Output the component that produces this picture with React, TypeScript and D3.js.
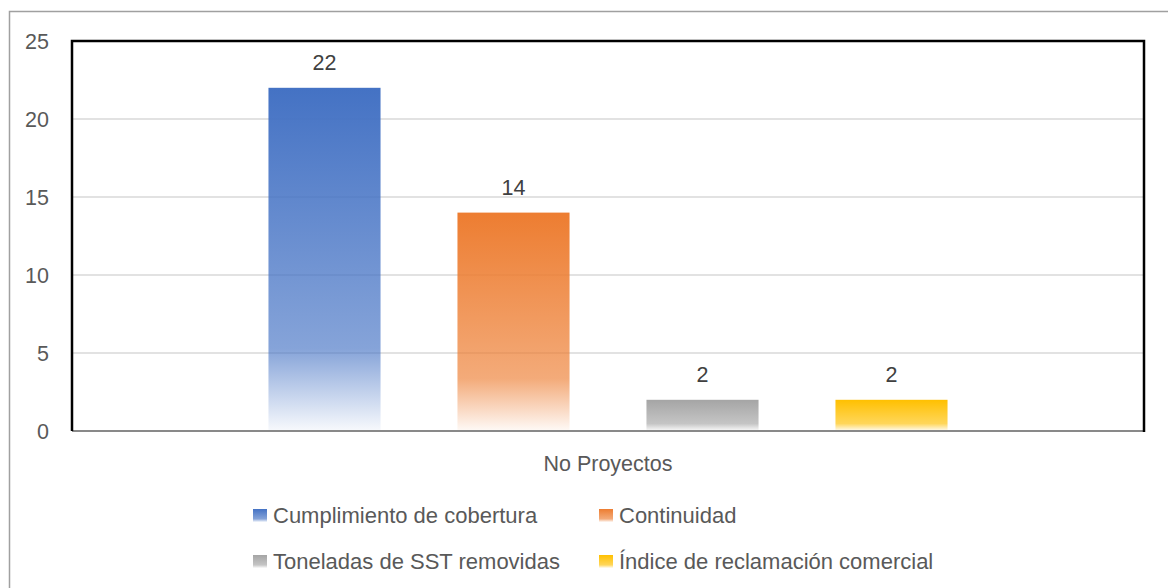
import React from 'react'
import * as d3 from 'd3'

const categories = ['No Proyectos']
const seriesNames = [
  'Cumplimiento de cobertura',
  'Continuidad',
  'Toneladas de SST removidas',
  'Índice de reclamación comercial',
]
const seriesValues = [22, 14, 2, 2]
const seriesColors = ['#4472C4', '#ED7D31', '#A5A5A5', '#FFC000']
const yTicks = [0, 5, 10, 15, 20, 25]

const width = 1168
const height = 588
const margin = { left: 72, top: 41, right: 24, bottom: 157 }
const font = '"Liberation Sans", Arial, sans-serif'

const App = () => {
  const innerW = width - margin.left - margin.right
  const innerH = height - margin.top - margin.bottom

  const y = d3.scaleLinear().domain([0, 25]).range([innerH, 0])
  const x0 = d3.scaleBand().domain(categories).range([0, innerW]).paddingInner(0).paddingOuter(0.209)
  const x1 = d3.scaleBand().domain(seriesNames).range([0, x0.bandwidth()]).paddingInner(0.407).paddingOuter(0.2035)

  // legend laid out in 2 columns
  const legendCol = d3.scaleOrdinal<number, number>().domain([0, 1]).range([253, 599])
  const legendRow = d3.scaleLinear().domain([0, 1]).range([509, 555])

  return (
    <div style={{ position: 'fixed', left: 0, top: 0 }}>
      <svg width={width} height={height} style={{ display: 'block', background: '#fff' }}>
        <defs>
          {seriesColors.map((c, i) => (
            <linearGradient key={i} id={'grad' + i} x1="0" y1="0" x2="0" y2="1">
              <stop offset="0" stopColor={c} stopOpacity={1} />
              <stop offset="0.76" stopColor={c} stopOpacity={0.65} />
              <stop offset="1" stopColor={c} stopOpacity={0.04} />
            </linearGradient>
          ))}
        </defs>

        {/* chart area border */}
        <rect x={9.5} y={11.5} width={1180} height={600} fill="none" stroke="#a0a0a0" strokeWidth={1.5} />

        <g transform={`translate(${margin.left},${margin.top})`}>
          {/* gridlines */}
          {yTicks.filter(t => t > 0 && t < 25).map(t => (
            <line key={t} x1={0} x2={innerW} y1={y(t)} y2={y(t)} stroke="#d9d9d9" strokeWidth={1.5} />
          ))}

          {/* y labels */}
          {yTicks.map(t => (
            <text key={t} x={-23} y={y(t)} dy="0.36em" textAnchor="end" fontFamily={font} fontSize={21.5} fill="#595959">
              {t}
            </text>
          ))}

          {categories.map(cat => (
            <g key={cat} transform={`translate(${x0(cat)},0)`}>
              {seriesNames.map((s, i) => (
                <g key={s}>
                  <rect
                    x={x1(s)}
                    y={y(seriesValues[i])}
                    width={x1.bandwidth()}
                    height={innerH - y(seriesValues[i])}
                    fill={`url(#grad${i})`}
                  />
                  <text
                    x={(x1(s) ?? 0) + x1.bandwidth() / 2}
                    y={y(seriesValues[i]) - 18}
                    textAnchor="middle"
                    fontFamily={font}
                    fontSize={21.5}
                    fill="#404040"
                  >
                    {seriesValues[i]}
                  </text>
                </g>
              ))}
              <text x={x0.bandwidth() / 2} y={innerH + 40} textAnchor="middle" fontFamily={font} fontSize={21.5} fill="#595959">
                {cat}
              </text>
            </g>
          ))}

          {/* axis line + plot border */}
          <line x1={0} x2={innerW} y1={innerH} y2={innerH} stroke="#898989" strokeWidth={2} />
          <path d={`M0,${innerH} V0 H${innerW} V${innerH + 1}`} fill="none" stroke="#000" strokeWidth={2.5} />
        </g>

        {/* legend */}
        {seriesNames.map((s, i) => {
          const lx = legendCol(i % 2)
          const ly = legendRow(Math.floor(i / 2))
          return (
            <g key={s} transform={`translate(${lx},${ly})`}>
              <rect x={0} y={0} width={14} height={13} fill={`url(#grad${i})`} />
              <text x={20} y={14} fontFamily={font} fontSize={22} fill="#595959">
                {s}
              </text>
            </g>
          )
        })}
      </svg>
    </div>
  )
}

export default App
